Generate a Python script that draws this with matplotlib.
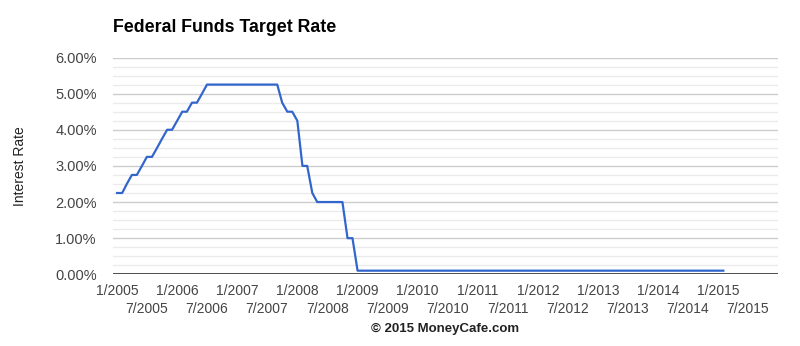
import numpy as np
import pandas as pd
import matplotlib
import matplotlib.pyplot as plt

matplotlib.use('Agg')
plt.rcParams['font.family'] = ['Liberation Sans', 'DejaVu Sans']

# monthly target rate, 1/2005 .. 2/2015
rate_2005 = [2.25, 2.25, 2.5, 2.75, 2.75, 3.0, 3.25, 3.25, 3.5, 3.75, 4.0, 4.0]
rate_2006 = [4.25, 4.5, 4.5, 4.75, 4.75, 5.0, 5.25, 5.25, 5.25, 5.25, 5.25, 5.25]
rate_2007 = [5.25, 5.25, 5.25, 5.25, 5.25, 5.25, 5.25, 5.25, 5.25, 4.75, 4.5, 4.5]
rate_2008 = [4.25, 3.0, 3.0, 2.25, 2.0, 2.0, 2.0, 2.0, 2.0, 2.0, 1.0, 1.0]
rate_2009 = [0.1, 0.1, 0.1, 0.1, 0.1, 0.1, 0.1, 0.1, 0.1, 0.1, 0.1, 0.1]
rate_2010 = [0.1, 0.1, 0.1, 0.1, 0.1, 0.1, 0.1, 0.1, 0.1, 0.1, 0.1, 0.1]
rate_2011 = [0.1, 0.1, 0.1, 0.1, 0.1, 0.1, 0.1, 0.1, 0.1, 0.1, 0.1, 0.1]
rate_2012 = [0.1, 0.1, 0.1, 0.1, 0.1, 0.1, 0.1, 0.1, 0.1, 0.1, 0.1, 0.1]
rate_2013 = [0.1, 0.1, 0.1, 0.1, 0.1, 0.1, 0.1, 0.1, 0.1, 0.1, 0.1, 0.1]
rate_2014 = [0.1, 0.1, 0.1, 0.1, 0.1, 0.1, 0.1, 0.1, 0.1, 0.1, 0.1, 0.1]
rate_2015 = [0.1, 0.1]

rates = (rate_2005 + rate_2006 + rate_2007 + rate_2008 + rate_2009 + rate_2010
         + rate_2011 + rate_2012 + rate_2013 + rate_2014 + rate_2015)
months = pd.date_range('2005-01-01', periods=len(rates), freq='MS')

years = list(range(2005, 2016))
jan_labels = ['1/%d' % y for y in years]
jul_labels = ['7/%d' % y for y in years]
y_ticks = [0, 1, 2, 3, 4, 5, 6]

fig = plt.figure(figsize=(8, 3.46), dpi=100)
ax = fig.add_axes([113.3 / 800, 1 - 274.3 / 346, 665 / 800, 216.8 / 346])

ax.plot(months, rates, color='#3366cc', lw=1.6, solid_joinstyle='round', zorder=3)

ax.set_xlim(pd.Timestamp('2004-12-09'), pd.Timestamp('2016-01-01'))
ax.set_ylim(0, 6)

# grid: majors every 1%, minors every 0.25%
ax.set_yticks(y_ticks, ['%.2f%%' % v for v in y_ticks])
ax.set_yticks(np.arange(0, 6.01, 0.25), minor=True)
ax.grid(axis='y', which='major', color='#cccccc', lw=1)
ax.grid(axis='y', which='minor', color='#ebebeb', lw=1)
ax.axhline(0, color='#333333', lw=1.2, zorder=4)

jan = [pd.Timestamp('%d-01-01' % y) for y in years]
jul = [pd.Timestamp('%d-07-01' % y) for y in years]
ax.set_xticks(jan, jan_labels)
ax.set_xticks(jul, jul_labels, minor=True)
ax.tick_params(axis='x', which='major', length=0, pad=7, labelsize=10, labelcolor='#444444')
ax.tick_params(axis='x', which='minor', length=0, pad=20, labelsize=10, labelcolor='#444444')
ax.tick_params(axis='y', which='both', length=0, pad=12, labelsize=10.5, labelcolor='#444444')

for s in ax.spines.values():
    s.set_visible(False)

fig.text(113 / 800, 1 - 27 / 346, 'Federal Funds Target Rate', fontsize=12.8,
         fontweight='bold', ha='left', va='center', color='#000000')
fig.text(20 / 800, 1 - 166 / 346, 'Interest Rate', fontsize=10, rotation=90,
         ha='center', va='center', color='#222222')
fig.text(445 / 800, 1 - 329 / 346, '\u00a9 2015 MoneyCafe.com', fontsize=9.5,
         fontweight='bold', ha='center', va='center', color='#222222')

fig.savefig('out.png', dpi=100)
